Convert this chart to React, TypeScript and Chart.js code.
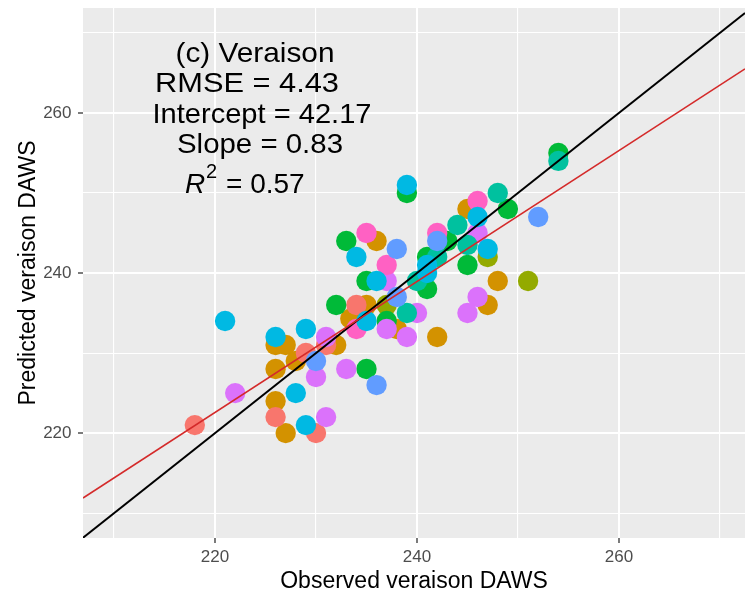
import React, { useEffect, useRef } from "react";
import { Chart, registerables } from "chart.js";

Chart.register(...registerables);

// ---- axis ranges and ticks ----
const X_MIN = 206.93;
const X_MAX = 272.48;
const Y_MIN = 206.9;
const Y_MAX = 273.1;
const gridTicks = [210, 220, 230, 240, 250, 260, 270];
const labelledTicks = [220, 240, 260];

// ---- observed (x) / predicted (y) values per colour group ----
const salmonObs = [218, 226, 230, 229, 231, 234];
const salmonPred = [221, 222, 220, 230, 231, 236];

const ochreObs = [226, 227, 226, 228, 232, 226, 227, 233.4, 235, 236, 238, 242, 245, 248, 247];
const ochrePred = [231, 231, 228, 229, 231, 224, 220, 234.3, 236, 244, 233, 232, 248, 239, 236];

const oliveObs = [237, 247, 251];
const olivePred = [236, 242, 239];

const greenObs = [233, 235, 232, 235, 239, 249, 254, 237, 241, 245, 241, 243];
const greenPred = [244, 239, 236, 228, 250, 248, 255, 234, 238, 241, 242, 244];

const tealObs = [239, 240, 248, 244, 245, 254, 242];
const tealPred = [235, 239, 250, 246, 243.5, 254, 242];

const cyanObs = [221, 226, 229, 228, 229, 234, 236, 235, 239, 246, 241, 241, 247];
const cyanPred = [234, 232, 233, 225, 221, 242, 239, 234, 251, 247, 241, 240, 243];

const blueObs = [230, 236, 238, 238, 242, 252];
const bluePred = [229, 226, 243, 237, 244, 247];

const violetObs = [222, 230, 231, 231, 233, 237, 239, 237, 240, 246, 246, 245];
const violetPred = [225, 227, 232, 222, 228, 233, 232, 239, 235, 245, 237, 235];

const pinkObs = [235, 237, 234, 242, 246];
const pinkPred = [245, 241, 233, 245, 249];

// ---- reference lines ----
const oneToOneX = [X_MIN, X_MAX];
const oneToOneY = [X_MIN, X_MAX];
const fitX = [X_MIN, X_MAX];
const fitY = [211.9, 265.5];

// ---- annotation text ----
const titleText = "(c) Veraison";
const rmseText = "RMSE = 4.43";
const interceptText = "Intercept = 42.17";
const slopeText = "Slope = 0.83";
const r2Value = "= 0.57";

const FONT = '"Liberation Sans", Arial, Helvetica, sans-serif';

const pts = (xs: number[], ys: number[]) => xs.map((x, i) => ({ x, y: ys[i] }));

const groups = [
  { label: "ochre", color: "#D39200", xs: ochreObs, ys: ochrePred, order: 9 },
  { label: "salmon", color: "#F8766D", xs: salmonObs, ys: salmonPred, order: 8 },
  { label: "olive", color: "#93AA00", xs: oliveObs, ys: olivePred, order: 7 },
  { label: "green", color: "#00BA38", xs: greenObs, ys: greenPred, order: 6 },
  { label: "violet", color: "#DB72FB", xs: violetObs, ys: violetPred, order: 5 },
  { label: "teal", color: "#00C19F", xs: tealObs, ys: tealPred, order: 4 },
  { label: "pink", color: "#FF61C3", xs: pinkObs, ys: pinkPred, order: 3 },
  { label: "blue", color: "#619CFF", xs: blueObs, ys: bluePred, order: 2 },
  { label: "cyan", color: "#00B9E3", xs: cyanObs, ys: cyanPred, order: 1 },
];

const panelBg = {
  id: "panelBg",
  beforeDraw(chart: any) {
    const { ctx, chartArea } = chart;
    ctx.save();
    ctx.fillStyle = "#EBEBEB";
    ctx.fillRect(chartArea.left, chartArea.top, chartArea.right - chartArea.left, chartArea.bottom - chartArea.top);
    ctx.restore();
  },
};

function fitText(ctx: CanvasRenderingContext2D, text: string, cx: number, baseline: number, targetW: number) {
  const w = ctx.measureText(text).width || 1;
  ctx.save();
  ctx.translate(cx, baseline);
  ctx.scale(targetW / w, 1);
  ctx.textAlign = "center";
  ctx.fillText(text, 0, 0);
  ctx.restore();
}

const statsText = {
  id: "statsText",
  afterDraw(chart: any) {
    const ctx = chart.ctx as CanvasRenderingContext2D;
    ctx.save();
    ctx.fillStyle = "#000000";
    ctx.textBaseline = "alphabetic";
    ctx.font = `28px ${FONT}`;
    fitText(ctx, titleText, 255, 62, 159);
    fitText(ctx, rmseText, 247, 92, 184);
    fitText(ctx, interceptText, 262, 123, 219);
    fitText(ctx, slopeText, 260, 153, 166);
    ctx.textAlign = "left";
    ctx.font = `italic 28px ${FONT}`;
    ctx.fillText("R", 185, 193);
    ctx.font = `20px ${FONT}`;
    ctx.fillText("2", 206, 178);
    ctx.font = `28px ${FONT}`;
    ctx.fillText(r2Value, 226, 193);
    ctx.restore();
  },
};

export default function App() {
  const canvasRef = useRef<HTMLCanvasElement | null>(null);

  useEffect(() => {
    if (!canvasRef.current) return;
    const isMajor = (v: number) => labelledTicks.includes(v);

    const datasets: any[] = [
      {
        label: "fit",
        data: pts(fitX, fitY),
        showLine: true,
        borderColor: "#D42A2A",
        borderWidth: 1.6,
        pointRadius: 0,
        fill: false,
        order: 0,
      },
      {
        label: "1:1",
        data: pts(oneToOneX, oneToOneY),
        showLine: true,
        borderColor: "#000000",
        borderWidth: 2,
        pointRadius: 0,
        fill: false,
        order: 0,
      },
      ...groups.map((g) => ({
        label: g.label,
        data: pts(g.xs, g.ys),
        backgroundColor: g.color,
        borderWidth: 0,
        pointRadius: 10.2,
        pointBorderWidth: 0,
        order: g.order,
      })),
    ];

    const chart = new Chart(canvasRef.current, {
      type: "scatter",
      data: { datasets },
      plugins: [panelBg, statsText],
      options: {
        animation: false,
        responsive: true,
        maintainAspectRatio: false,
        events: [],
        layout: { autoPadding: false, padding: { top: 8, left: 0, right: 0, bottom: 0 } },
        plugins: {
          legend: { display: false },
          tooltip: { enabled: false },
        },
        scales: {
          x: {
            type: "linear",
            min: X_MIN,
            max: X_MAX,
            afterBuildTicks: (s: any) => {
              s.ticks = gridTicks.map((v) => ({ value: v }));
            },
            afterFit: (s: any) => {
              s.height = 55;
            },
            ticks: {
              autoSkip: false,
              maxRotation: 0,
              padding: 4,
              color: "#4D4D4D",
              font: { family: FONT, size: 17 },
              callback: (v: any) => (isMajor(Number(v)) ? String(v) : ""),
            },
            grid: {
              color: "#FFFFFF",
              lineWidth: (c: any) => (c.tick && isMajor(c.tick.value) ? 2 : 1.1),
              drawTicks: true,
              tickLength: 5,
              tickWidth: 1.3,
              tickColor: (c: any) => (c.tick && isMajor(c.tick.value) ? "#333333" : "rgba(0,0,0,0)"),
            },
            border: { display: false },
            title: {
              display: true,
              text: "Observed veraison DAWS",
              color: "#000000",
              font: { family: FONT, size: 23 },
              padding: { top: 0, bottom: -2 },
            },
          },
          y: {
            type: "linear",
            min: Y_MIN,
            max: Y_MAX,
            afterBuildTicks: (s: any) => {
              s.ticks = gridTicks.map((v) => ({ value: v }));
            },
            afterFit: (s: any) => {
              s.width = 83;
            },
            ticks: {
              autoSkip: false,
              padding: 6.5,
              color: "#4D4D4D",
              font: { family: FONT, size: 17, lineHeight: 0.1 },
              callback: (v: any) => (isMajor(Number(v)) ? String(v) : ""),
            },
            grid: {
              color: "#FFFFFF",
              lineWidth: (c: any) => (c.tick && isMajor(c.tick.value) ? 2 : 1.1),
              drawTicks: true,
              tickLength: 5,
              tickWidth: 1.3,
              tickColor: (c: any) => (c.tick && isMajor(c.tick.value) ? "#333333" : "rgba(0,0,0,0)"),
            },
            border: { display: false },
            title: {
              display: true,
              text: "Predicted veraison DAWS",
              color: "#000000",
              font: { family: FONT, size: 23 },
              padding: { top: 15, bottom: 0 },
            },
          },
        },
      } as any,
    });

    return () => chart.destroy();
  }, []);

  return (
    <div style={{ position: "absolute", left: 0, top: 0, width: 745, height: 593, background: "#FFFFFF" }}>
      <canvas ref={canvasRef} />
    </div>
  );
}
